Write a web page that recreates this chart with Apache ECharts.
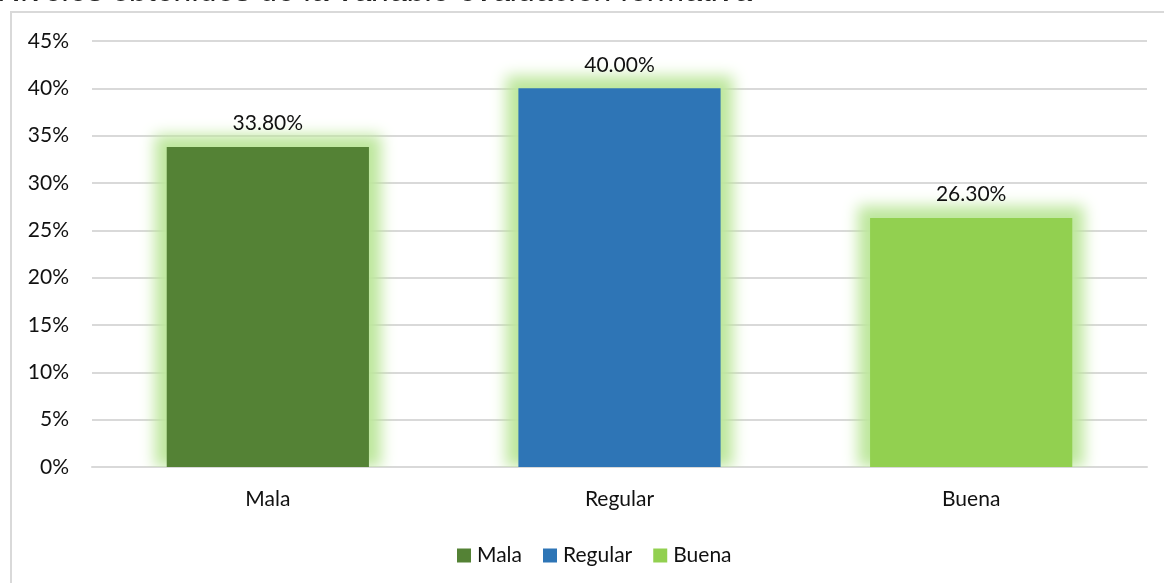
<!DOCTYPE html>
<html>
<head>
<meta charset="utf-8">
<script src="https://cdn.jsdelivr.net/npm/echarts@6/dist/echarts.min.js"></script>
<style>
  html, body { margin: 0; padding: 0; background: #fff; }
  #chart { width: 1164px; height: 583px; }
</style>
</head>
<body>
<div id="chart"></div>
<script>
// Niveles de la variable evaluación formativa
const titleText = 'Niveles obtenidos de la variable evaluación formativa';
const categories = ['Mala', 'Regular', 'Buena'];
const seriesNames = ['Mala', 'Regular', 'Buena'];
const values = [0.338, 0.400, 0.263];
const colors = ['#548235', '#2e75b6', '#92d050'];

const labelFont = 'Lato, "Noto Sans", sans-serif';
const BAR_RATIO = 0.575;

// one series per level, overlapped on its own category so the legend lists all three
const barSeries = seriesNames.map((name, i) => ({
  name: name,
  type: 'bar',
  z: 3,
  barWidth: (BAR_RATIO * 100) + '%',
  barGap: '-100%',
  data: categories.map((c, j) => (j === i ? values[i] : '-')),
  itemStyle: { color: colors[i] },
  label: {
    show: true,
    position: 'top',
    distance: 13,
    color: '#111',
    fontFamily: labelFont,
    fontSize: 21,
    formatter: p => (p.value * 100).toFixed(2) + '%'
  }
}));

// soft green glow behind every bar: only the blurred shadow of a padded rect is shown
const GLOW = '#bde79c';
const glowSeries = {
  type: 'custom',
  z: 2,
  silent: true,
  clip: false,
  data: values.map((v, i) => [i, v]),
  encode: { x: 0, y: 1 },
  renderItem: (params, api) => {
    const top = api.coord([api.value(0), api.value(1)]);
    const base = api.coord([api.value(0), 0]);
    const bw = api.size([1, 0])[0] * BAR_RATIO;
    const pad = 12;
    const shift = 3000;
    return {
      type: 'rect',
      shape: {
        x: top[0] - bw / 2 - pad - shift,
        y: top[1] - pad,
        width: bw + 2 * pad,
        height: base[1] - top[1] + pad
      },
      style: {
        fill: GLOW,
        shadowBlur: 14,
        shadowColor: GLOW,
        shadowOffsetX: shift
      },
      clipPath: {
        type: 'rect',
        shape: { x: 0, y: 0, width: 5000, height: base[1] }
      }
    };
  }
};

const chart = echarts.init(document.getElementById('chart'), null, { renderer: 'canvas' });
chart.setOption({
  animation: false,
  backgroundColor: '#fff',
  graphic: [
    {
      type: 'rect',
      shape: { x: 11, y: 12, width: 1170, height: 600 },
      style: { fill: 'none', stroke: '#d9d9d9', lineWidth: 2 },
      z: -1
    },
    {
      type: 'text',
      x: -1,
      y: 8,
      style: {
        text: titleText,
        font: 'italic 32px "Liberation Sans", Arial, sans-serif',
        fill: '#222',
        verticalAlign: 'bottom'
      }
    }
  ],
  grid: { left: 92, right: 17, top: 41, bottom: 116, containLabel: false },
  legend: {
    data: seriesNames,
    top: 540,
    left: 452,
    itemWidth: 14,
    itemHeight: 14,
    itemGap: 21,
    icon: 'rect',
    textStyle: { fontFamily: labelFont, fontSize: 21, color: '#111', padding: [0, 0, 0, 1] }
  },
  xAxis: {
    type: 'category',
    data: categories,
    axisLine: { show: true, lineStyle: { color: '#d9d9d9', width: 2 } },
    axisTick: { show: false },
    axisLabel: { fontFamily: labelFont, fontSize: 21, color: '#111', margin: 22 }
  },
  yAxis: {
    type: 'value',
    min: 0,
    max: 0.45,
    interval: 0.05,
    axisLine: { show: false },
    axisTick: { show: false },
    splitLine: { lineStyle: { color: '#d9d9d9', width: 2 } },
    axisLabel: {
      fontFamily: labelFont,
      fontSize: 21,
      color: '#111',
      margin: 23,
      formatter: v => Math.round(v * 100) + '%'
    }
  },
  series: [glowSeries].concat(barSeries)
});
</script>
</body>
</html>
